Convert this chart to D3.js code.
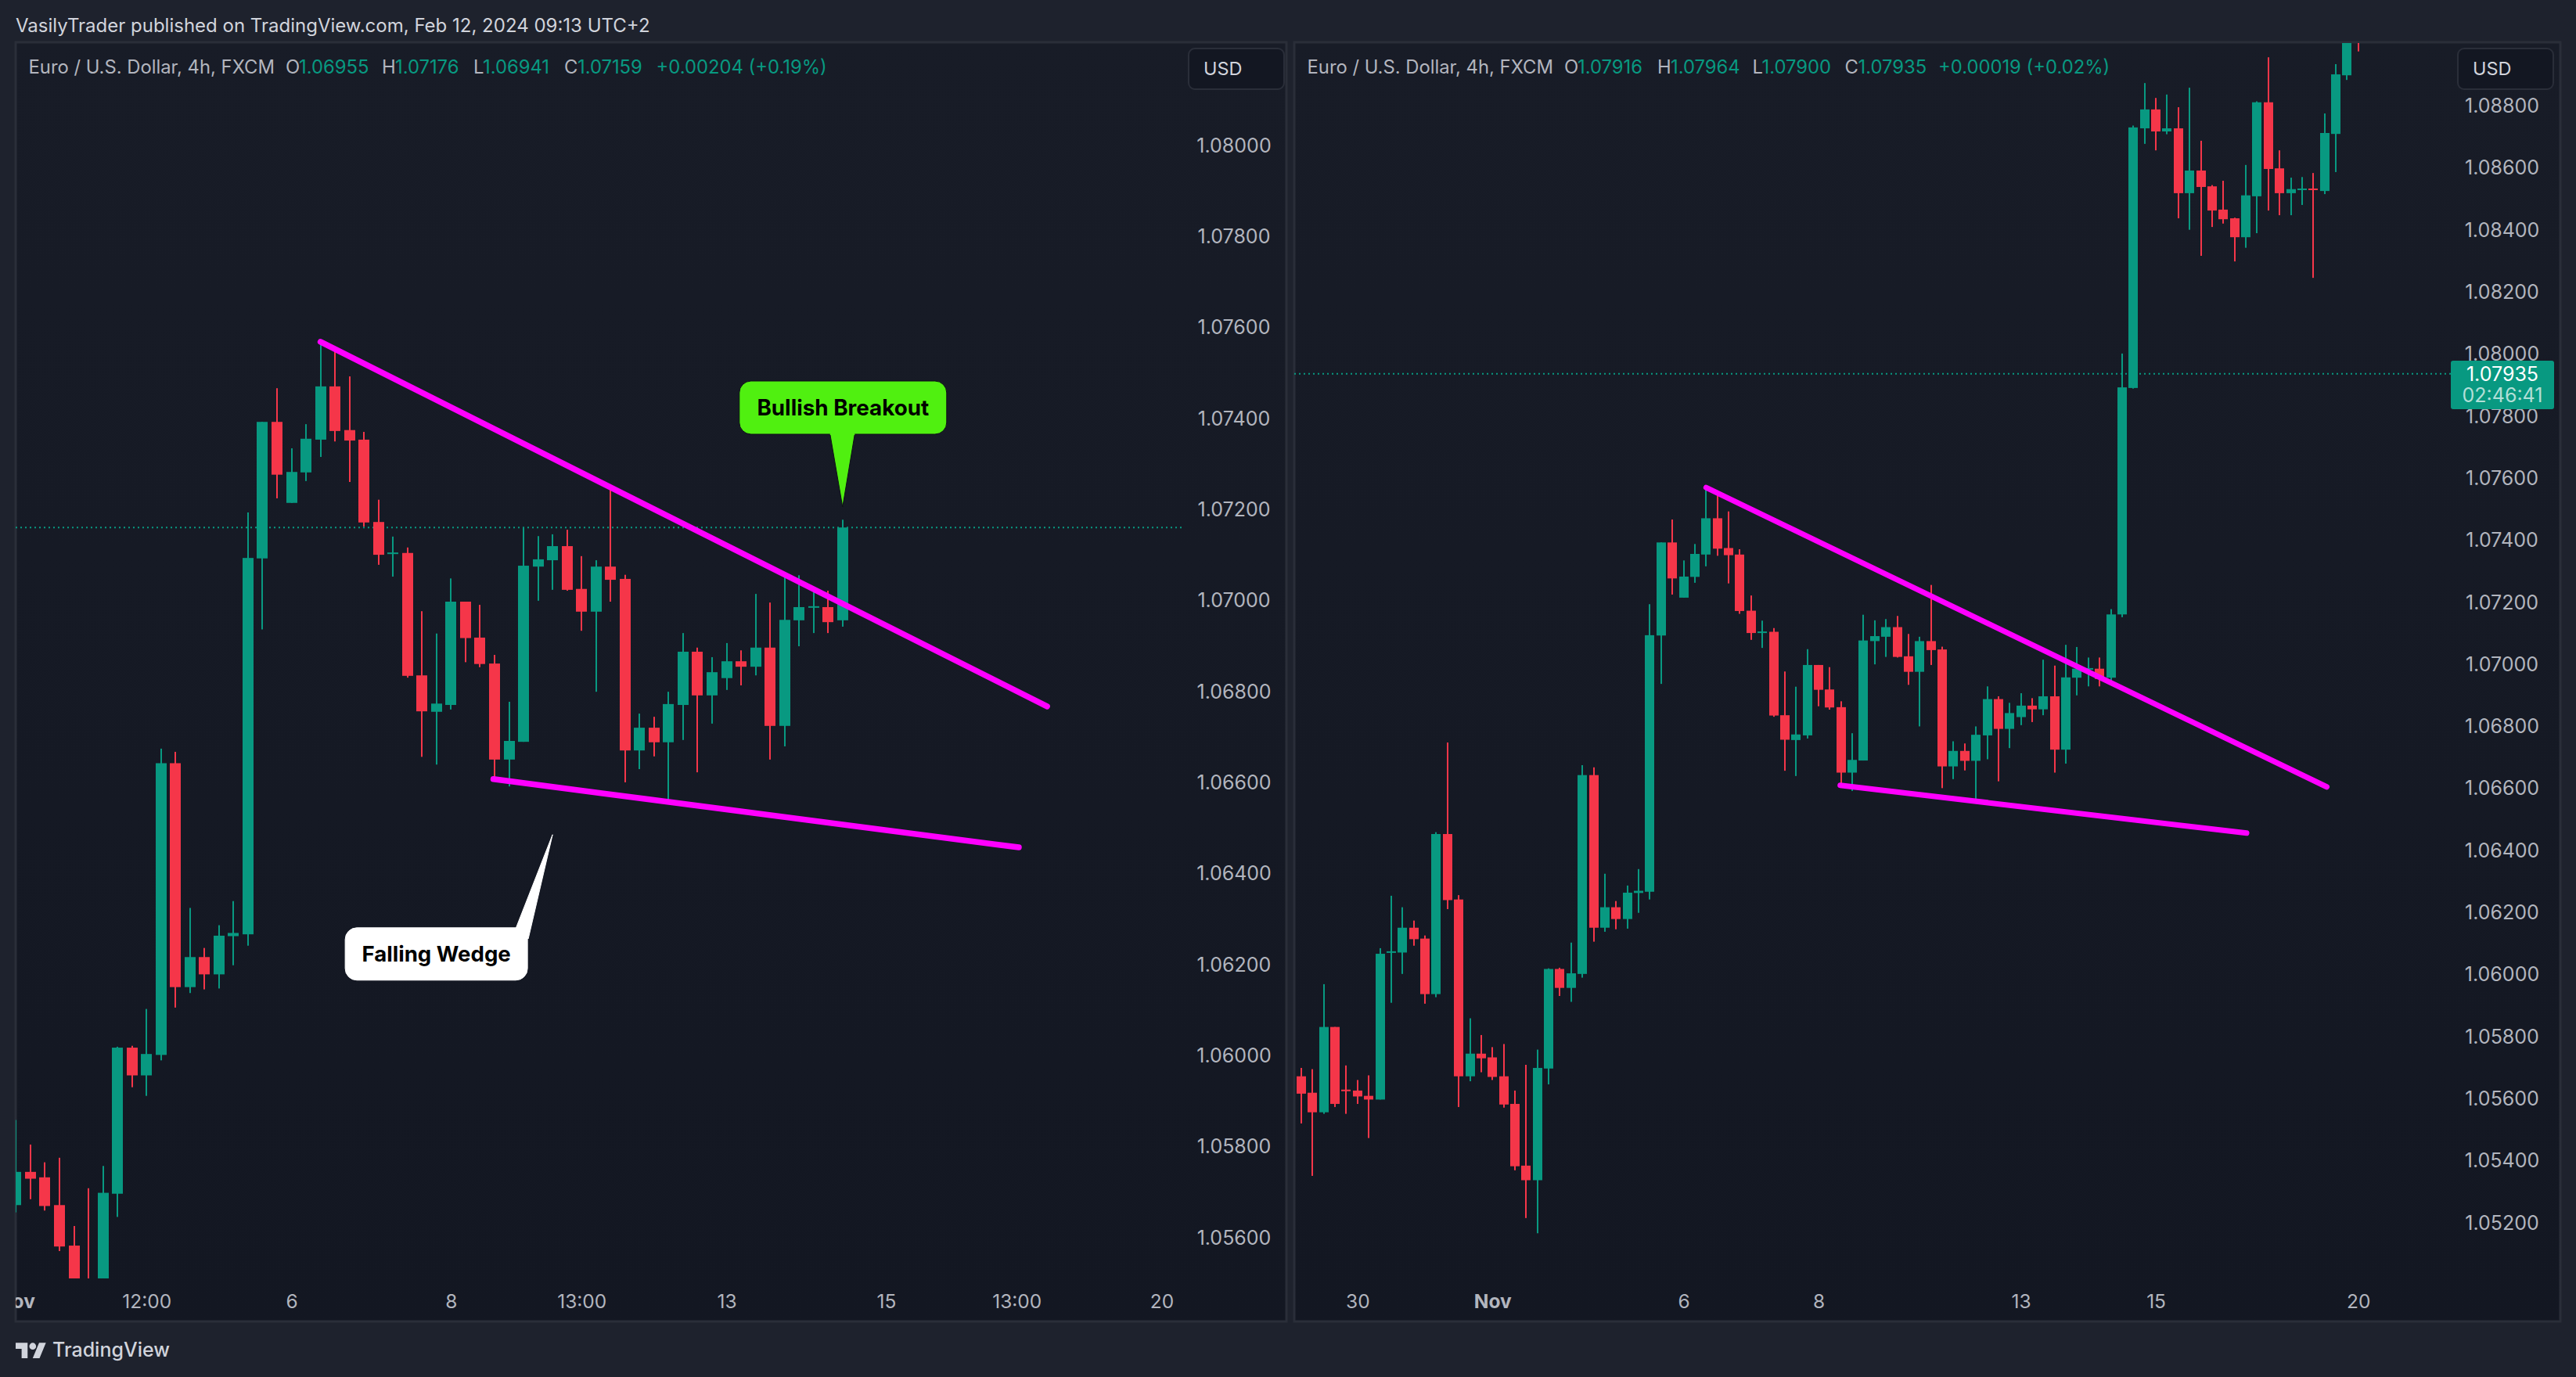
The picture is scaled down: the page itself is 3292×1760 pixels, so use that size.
<!DOCTYPE html>
<html>
<head>
<meta charset="utf-8">
<script src="https://cdn.jsdelivr.net/npm/d3@7"></script>
<style>
    html, body { margin: 0; padding: 0; background: #1e222d; }
    text { font-family: Inter, "Noto Sans", sans-serif; }
</style>
</head>
<body>
<svg id="chart" width="3292" height="1760"></svg>
<script>
// candles, EURUSD 4h (both panes show the same bars)
const opens = [1.05670,1.05617,1.05554,1.05829,1.05627,1.05624,1.05607,1.05595,1.06069,1.06069,
    1.06149,1.06114,1.05935,1.06451,1.06240,1.05670,1.05743,1.05731,1.05670,1.05581,
    1.05382,1.05335,1.05695,1.06016,1.05955,1.06000,1.06641,1.06149,1.06215,1.06177,
    1.06261,1.06265,1.07091,1.07391,1.07213,1.07280,1.07352,1.07469,1.07373,1.07352,
    1.07171,1.07101,1.07103,1.06834,1.06754,1.06769,1.06996,1.06917,1.06860,1.06649,
    1.06688,1.07073,1.07087,1.07118,1.07024,1.06974,1.07073,1.07046,1.06669,1.06719,
    1.06687,1.06769,1.06886,1.06790,1.06828,1.06865,1.06853,1.06895,1.06723,1.06955,
    1.06983,1.06984,1.06955,1.07159,1.07889,1.08726,1.08787,1.08716,1.08726,1.08517,
    1.08590,1.08539,1.08464,1.08436,1.08375,1.08507,1.08810,1.08597,1.08517,1.08527,
    1.08532,1.08524,1.08708,1.08897,1.09250];
const highs = [1.05697,1.05693,1.05967,1.05829,1.05705,1.05658,1.05673,1.06083,1.06252,1.06215,
    1.06172,1.06124,1.06457,1.06746,1.06254,1.05857,1.05803,1.05764,1.05774,1.05624,
    1.05707,1.05756,1.06018,1.06020,1.06101,1.06673,1.06666,1.06323,1.06235,1.06285,
    1.06338,1.07192,1.07391,1.07465,1.07333,1.07386,1.07562,1.07555,1.07491,1.07369,
    1.07220,1.07139,1.07115,1.06975,1.06926,1.07047,1.06996,1.06989,1.06879,1.06776,
    1.07158,1.07140,1.07144,1.07154,1.07096,1.07087,1.07254,1.07055,1.06750,1.06743,
    1.06798,1.06927,1.06895,1.06874,1.06905,1.06889,1.07013,1.06994,1.07061,1.07054,
    1.07020,1.07020,1.07176,1.08000,1.08735,1.08872,1.08824,1.08835,1.08794,1.08857,
    1.08686,1.08543,1.08557,1.08438,1.08608,1.08813,1.08955,1.08655,1.08567,1.08569,
    1.08582,1.08774,1.08933,1.09070,1.09300];
const lows = [1.05518,1.05349,1.05549,1.05571,1.05549,1.05581,1.05471,1.05595,1.05907,1.06000,
    1.06091,1.05904,1.05925,1.06209,1.05571,1.05654,1.05683,1.05658,1.05569,1.05367,
    1.05213,1.05164,1.05644,1.05929,1.05910,1.05988,1.06104,1.06136,1.06144,1.06146,
    1.06197,1.06240,1.06935,1.07223,1.07213,1.07261,1.07314,1.07348,1.07259,1.07161,
    1.07077,1.07051,1.06829,1.06655,1.06638,1.06759,1.06863,1.06852,1.06601,1.06590,
    1.06688,1.06998,1.07022,1.07020,1.06932,1.06798,1.06996,1.06599,1.06628,1.06656,
    1.06559,1.06692,1.06621,1.06728,1.06802,1.06812,1.06834,1.06649,1.06678,1.06898,
    1.06927,1.06927,1.06941,1.07150,1.07887,1.08676,1.08655,1.08707,1.08436,1.08399,
    1.08315,1.08408,1.08419,1.08297,1.08341,1.08388,1.08461,1.08446,1.08446,1.08479,
    1.08244,1.08514,1.08585,1.08882,1.08974];
const closes = [1.05614,1.05554,1.05829,1.05581,1.05623,1.05605,1.05595,1.06065,1.06073,1.06149,
    1.06112,1.05935,1.06451,1.06238,1.05670,1.05743,1.05728,1.05668,1.05579,1.05380,
    1.05335,1.05697,1.06016,1.05955,1.06002,1.06641,1.06149,1.06215,1.06177,1.06262,
    1.06268,1.07092,1.07391,1.07275,1.07281,1.07354,1.07469,1.07371,1.07350,1.07170,
    1.07099,1.07104,1.06833,1.06755,1.06772,1.06996,1.06916,1.06859,1.06649,1.06690,
    1.07075,1.07089,1.07118,1.07022,1.06974,1.07073,1.07044,1.06669,1.06719,1.06687,
    1.06771,1.06886,1.06790,1.06841,1.06865,1.06853,1.06895,1.06723,1.06956,1.06984,
    1.06986,1.06951,1.07159,1.07891,1.08729,1.08787,1.08716,1.08726,1.08517,1.08590,
    1.08537,1.08461,1.08433,1.08375,1.08510,1.08810,1.08595,1.08517,1.08530,1.08532,
    1.08527,1.08711,1.08900,1.09040,1.09050];

const leftPriceTicks = [1.08,1.078,1.076,1.074,1.072,1.07,1.068,1.066,1.064,1.062,1.06,1.058,1.056];
const rightPriceTicks = [1.088,1.086,1.084,1.082,1.08,1.078,1.076,1.074,1.072,1.07,1.068,1.066,1.064,1.062,1.06,1.058,1.056,1.054,1.052];

const leftTimeBars = [15,24,34,45,54,64,75,84,94];
const leftTimeLabels = ["Nov","12:00","6","8","13:00","13","15","13:00","20"];
const rightTimeBars = [5,17,34,46,64,76,94];
const rightTimeLabels = ["30","Nov","6","8","13","15","20"];

// trend lines as [bar, price]
const leftTrendLines = [[[36,1.07567],[86.1,1.06766]], [[47.92,1.06606],[84.15,1.06456]]];
const rightTrendLines = [[[36,1.07568],[91.2,1.06603]], [[47.93,1.06608],[84.07,1.06454]]];

const leftOhlc = ["1.06955","1.07176","1.06941","1.07159"];
const leftChange = "+0.00204 (+0.19%)";
const rightOhlc = ["1.07916","1.07964","1.07900","1.07935"];
const rightChange = "+0.00019 (+0.02%)";

const GREEN = "#089981", RED = "#f53649", MAGENTA = "#ff00ff", TEXT = "#b2b5be";
const PANE_TOP = 54, PANE_BOTTOM = 1689, PLOT_BOTTOM = 1634;

const svg = d3.select("#chart");
const defs = svg.append("defs");

const grad = defs.append("linearGradient").attr("id", "paneBg")
    .attr("x1", 0).attr("x2", 0).attr("y1", 0).attr("y2", 1);
grad.append("stop").attr("offset", "0%").attr("stop-color", "#181c27");
grad.append("stop").attr("offset", "100%").attr("stop-color", "#131722");

svg.append("rect").attr("width", 3292).attr("height", 1760).attr("fill", "#1e222d");

svg.append("text")
    .attr("x", 20).attr("y", 41)
    .attr("font-size", 24).attr("fill", "#d1d4dc")
    .text("VasilyTrader published on TradingView.com, Feb 12, 2024 09:13 UTC+2");

// logo + name in the footer
const logo = svg.append("g").attr("transform", "translate(20,1712) scale(1.09)").attr("fill", "#d1d4dc");
logo.append("path").attr("d", "M14 22H7V11H0V4h14v18zM28 22h-8l7.5-18h8L28 22z");
logo.append("circle").attr("cx", 20).attr("cy", 8).attr("r", 4);
svg.append("text")
    .attr("x", 67).attr("y", 1734)
    .attr("font-size", 25).attr("font-weight", 500).attr("fill", "#d1d4dc")
    .text("TradingView");

function drawPane(p) {
    const g = svg.append("g");

    // pane background and border
    g.append("rect")
        .attr("x", p.left).attr("y", PANE_TOP)
        .attr("width", p.right - p.left).attr("height", PANE_BOTTOM - PANE_TOP)
        .attr("fill", "url(#paneBg)")
        .attr("stroke", "#2a2e39").attr("stroke-width", 3);

    const x = d3.scaleLinear().domain(p.barDomain).range(p.barRange);
    const y = d3.scaleLinear().domain(p.priceDomain).range(p.priceRange);

    const clipId = "clip" + p.id;
    defs.append("clipPath").attr("id", clipId).append("rect")
        .attr("x", p.left).attr("y", PANE_TOP + 1)
        .attr("width", p.plotRight - p.left).attr("height", PLOT_BOTTOM - PANE_TOP - 1);

    const plot = g.append("g").attr("clip-path", `url(#${clipId})`);

    // last price dotted line
    plot.append("line")
        .attr("x1", p.left).attr("x2", p.plotRight)
        .attr("y1", y(p.lastPrice)).attr("y2", y(p.lastPrice))
        .attr("stroke", GREEN).attr("stroke-width", 2).attr("stroke-dasharray", "2 4");

    // candles
    const bars = d3.range(p.firstBar, p.lastBar + 1);
    const colour = i => closes[i] >= opens[i] ? GREEN : RED;

    plot.selectAll(".wick").data(bars).enter().append("rect")
        .attr("class", "wick")
        .attr("x", i => Math.round(x(i)) - 1)
        .attr("width", 2)
        .attr("y", i => y(highs[i]))
        .attr("height", i => y(lows[i]) - y(highs[i]))
        .attr("fill", colour);

    plot.selectAll(".body").data(bars).enter().append("rect")
        .attr("class", "body")
        .attr("x", i => Math.round(x(i)) - p.bodyWidth / 2)
        .attr("width", p.bodyWidth)
        .attr("y", i => Math.min(y(opens[i]), y(closes[i])))
        .attr("height", i => Math.max(2, Math.abs(y(opens[i]) - y(closes[i]))))
        .attr("fill", colour);

    // trend lines
    const trend = d3.line().x(d => x(d[0])).y(d => y(d[1]));
    g.selectAll(".trend").data(p.trendLines).enter().append("path")
        .attr("class", "trend")
        .attr("d", trend)
        .attr("fill", "none")
        .attr("stroke", MAGENTA)
        .attr("stroke-width", p.trendWidth)
        .attr("stroke-linecap", "round");

    // price axis
    const yAxis = g.append("g")
        .attr("transform", `translate(${p.axisX},0)`)
        .call(d3.axisRight(y).tickValues(p.priceTicks).tickFormat(d3.format(".5f")).tickSize(0));
    yAxis.select(".domain").remove();
    yAxis.selectAll("text")
        .attr("x", 0).attr("dy", "0.36em")
        .attr("text-anchor", "middle")
        .attr("font-size", 25).attr("font-family", "Inter")
        .attr("fill", TEXT);

    // time axis
    defs.append("clipPath").attr("id", clipId + "x").append("rect")
        .attr("x", p.left).attr("y", -30).attr("width", p.right - p.left).attr("height", 60);
    const xAxis = g.append("g")
        .attr("transform", "translate(0,1663)")
        .attr("clip-path", `url(#${clipId}x)`)
        .call(d3.axisBottom(x).tickValues(p.timeBars)
            .tickFormat((d, i) => p.timeLabels[i]).tickSize(0).tickPadding(0));
    xAxis.select(".domain").remove();
    xAxis.selectAll("text")
        .attr("y", 0).attr("dy", "0.36em")
        .attr("font-size", 24.5).attr("font-family", "Inter")
        .attr("font-weight", d => d === p.timeBars[p.timeLabels.indexOf("Nov")] ? 700 : 400)
        .attr("fill", TEXT);

    // legend row
    const legend = g.append("g").attr("font-size", 23.8);
    const row = (tx, txt, fill) => legend.append("text")
        .attr("x", tx).attr("y", 94).attr("fill", fill).text(txt);
    row(p.left + 16.5, "Euro / U.S. Dollar, 4h, FXCM", TEXT);
    ["O", "H", "L", "C"].forEach((k, n) => {
        row(p.ohlcX[n], k, TEXT);
        row(p.ohlcX[n] + (k === "L" ? 12 : 17), p.ohlc[n], GREEN);
    });
    row(p.changeX, p.change, GREEN);

    // currency button
    g.append("rect")
        .attr("x", p.usdX).attr("y", 62)
        .attr("width", 122).attr("height", 52).attr("rx", 8)
        .attr("fill", "#131722").attr("stroke", "#2a2e39").attr("stroke-width", 2);
    g.append("text")
        .attr("x", p.usdX + 19).attr("y", 96)
        .attr("font-size", 23.5).attr("fill", "#d1d4dc")
        .text("USD");

    return { x, y, g };
}

const leftPane = drawPane({
    id: "L", left: 20, right: 1644, plotRight: 1512,
    firstBar: 15, lastBar: 72, lastPrice: +leftOhlc[3],
    barDomain: [15, 72], barRange: [20.4, 1076.8],
    priceDomain: [1.056, 1.08], priceRange: [1581, 185],
    bodyWidth: 14, trendWidth: 7.5,
    trendLines: leftTrendLines, priceTicks: leftPriceTicks,
    timeBars: leftTimeBars, timeLabels: leftTimeLabels,
    axisX: 1577, usdX: 1519,
    ohlc: leftOhlc, change: leftChange,
    ohlcX: [365, 488, 605, 721], changeX: 838.6
});

const rightPane = drawPane({
    id: "R", left: 1654, right: 3272, plotRight: 3132,
    firstBar: 0, lastBar: 94, lastPrice: +rightOhlc[3],
    barDomain: [0, 72], barRange: [1663, 2697.6],
    priceDomain: [1.052, 1.088], priceRange: [1562, 134.7],
    bodyWidth: 12, trendWidth: 7,
    trendLines: rightTrendLines, priceTicks: rightPriceTicks,
    timeBars: rightTimeBars, timeLabels: rightTimeLabels,
    axisX: 3197.5, usdX: 3141,
    ohlc: rightOhlc, change: rightChange,
    ohlcX: [1999, 2118, 2239.5, 2357.5], changeX: 2477
});

// callouts: tip anchored on bar/price, box offsets in px from the tip
function callout(pane, bar, price, box, tail, fill, outline, label, fontSize) {
    const tx = pane.x(bar), ty = pane.y(price);
    const g = pane.g.append("g").attr("transform", `translate(${tx},${ty})`);
    g.append("rect")
        .attr("x", box.x).attr("y", box.y).attr("width", box.w).attr("height", box.h)
        .attr("rx", 15).attr("fill", fill).attr("stroke", outline);
    g.append("path").attr("d", d3.line()([tail[0], [0, 0], tail[1]]))
        .attr("fill", fill).attr("stroke", outline);
    // hide the outline where the tail joins the box
    g.append("path").attr("d", d3.line()(tail)).attr("stroke", fill).attr("stroke-width", 2);
    g.append("text")
        .attr("x", box.x + box.w / 2).attr("y", box.y + box.h / 2).attr("dy", "0.36em")
        .attr("text-anchor", "middle")
        .attr("font-size", fontSize).attr("font-weight", 700).attr("fill", "#000")
        .text(label);
}

callout(leftPane, 72, 1.07204,
    { x: -132, y: -161, w: 265, h: 68 }, [[-16, -93], [15.5, -93]],
    "#50f010", "#0c0f16", "Bullish Breakout", 27.8);
callout(leftPane, 52, 1.06484,
    { x: -265, y: 119, w: 233, h: 67 }, [[-47, 120], [-31, 133]],
    "#ffffff", "#ffffff", "Falling Wedge", 27.6);

// last price tag on the right pane
const tag = rightPane.g.append("g");
tag.append("rect")
    .attr("x", 3132).attr("y", 461).attr("width", 132).attr("height", 62).attr("rx", 3)
    .attr("fill", GREEN);
tag.append("text")
    .attr("x", 3198).attr("y", rightPane.y(+rightOhlc[3])).attr("dy", "0.36em")
    .attr("text-anchor", "middle").attr("font-size", 25).attr("fill", "#fff")
    .text(rightOhlc[3]);
tag.append("text")
    .attr("x", 3198).attr("y", 505).attr("dy", "0.36em")
    .attr("text-anchor", "middle").attr("font-size", 25).attr("fill", "#fff").attr("fill-opacity", 0.7)
    .text("02:46:41");
</script>
</body>
</html>
